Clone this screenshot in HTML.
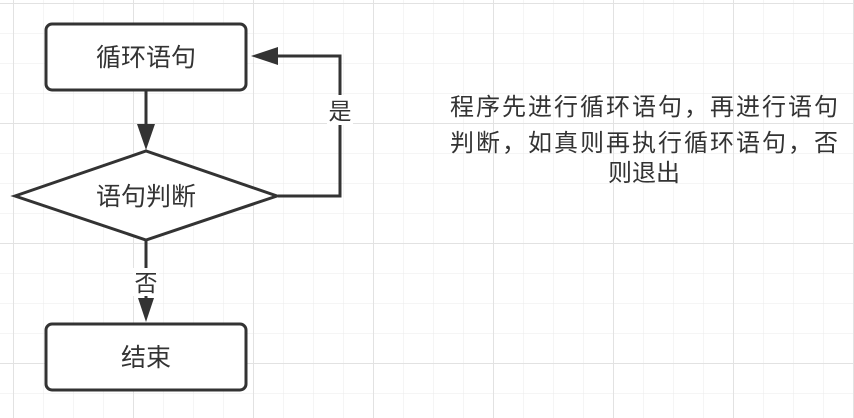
<!DOCTYPE html>
<html><head><meta charset="utf-8"><style>
html,body{margin:0;padding:0;background:#fff;}
svg{display:block;}
text{font-family:"Liberation Sans","Noto Sans CJK SC",sans-serif;fill:#333;}
</style></head><body>
<svg width="854" height="418" viewBox="0 0 854 418" xmlns="http://www.w3.org/2000/svg">
<defs>
<pattern id="g" x="13" y="3" width="30" height="30" patternUnits="userSpaceOnUse">
<path d="M0 0H30M0 0V30" stroke="#ebebeb" stroke-width="1" fill="none"/>
</pattern>
<pattern id="G" x="13" y="3" width="120" height="120" patternUnits="userSpaceOnUse">
<path d="M0 0H120M0 0V120" stroke="#e2e2e2" stroke-width="2" fill="none"/>
</pattern>
</defs>
<rect width="854" height="418" fill="url(#g)"/>
<rect width="854" height="418" fill="url(#G)"/>

<g stroke="#333" stroke-width="3" fill="#fff">
<rect x="46" y="24" width="200" height="66" rx="6"/>
<polygon points="15,196 146,151 277,196 146,240"/>
<rect x="46" y="324" width="200" height="66" rx="6"/>
</g>
<g stroke="#333" stroke-width="3" fill="none">
<line x1="146" y1="91" x2="146" y2="126"/>
<polyline points="278,196 340,196 340,56 276,56"/>
<line x1="146" y1="241" x2="146" y2="300"/>
</g>
<g fill="#333">
<polygon points="137,124 155,124 146,150"/>
<polygon points="278,47 278,65 251,56"/>
<polygon points="138,298 154,298 146,322"/>
</g>
<rect x="327" y="95" width="26" height="30" fill="#fff"/>
<rect x="133" y="268" width="26" height="28" fill="#fff"/>
<text x="340" y="119" font-size="23" text-anchor="middle">是</text>
<text x="146" y="291" font-size="23" text-anchor="middle">否</text>
<text x="146" y="66" font-size="25" text-anchor="middle">循环语句</text>
<text x="146" y="205" font-size="25" text-anchor="middle">语句判断</text>
<text x="146" y="366" font-size="25" text-anchor="middle">结束</text>

<text x="450" y="115" font-size="24" textLength="388" lengthAdjust="spacing">程序先进行循环语句，再进行语句</text>
<text x="450" y="151" font-size="24" textLength="388" lengthAdjust="spacing">判断，如真则再执行循环语句，否</text>
<text x="644" y="181" font-size="24" text-anchor="middle">则退出</text>
</svg>
</body></html>
